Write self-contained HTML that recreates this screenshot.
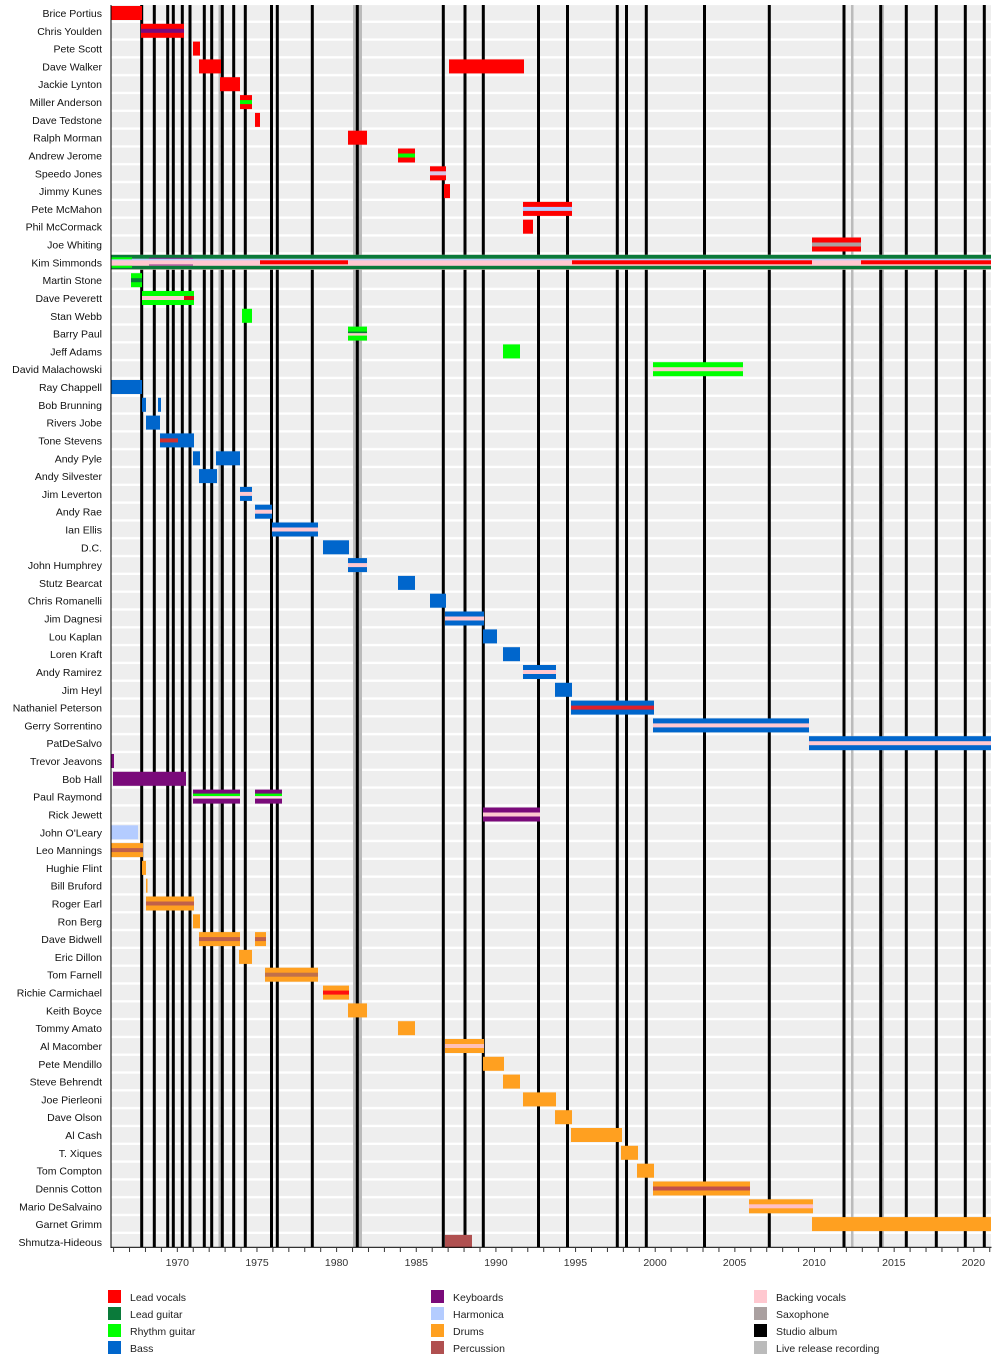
<!DOCTYPE html>
<html><head><meta charset="utf-8"><style>
html,body{margin:0;padding:0;background:#fff;}
svg{display:block;font-family:"Liberation Sans",Arial,sans-serif;}
.l{font-size:10.5px;fill:#111;text-anchor:end;}
.t{font-size:10.5px;fill:#333;text-anchor:middle;}
.g{font-size:10.5px;fill:#222;}
</style></head><body>
<svg width="1000" height="1367" viewBox="0 0 1000 1367" xmlns="http://www.w3.org/2000/svg">
<defs>
<pattern id="rows" patternUnits="userSpaceOnUse" x="0" y="5.1" width="1000" height="17.81">
<rect x="0" y="0" width="1000" height="15.5" fill="#eeeeee"/>
</pattern>
<pattern id="ticks" patternUnits="userSpaceOnUse" x="113.1" y="1247" width="15.93" height="6">
<rect x="0" y="0" width="1" height="5" fill="#333"/>
</pattern>
</defs>
<rect x="111" y="5" width="880" height="1242" fill="url(#rows)"/>
<!-- live release lines -->
<rect x="218.5" y="5" width="3" height="1242" fill="#bbb"/>
<rect x="353" y="5" width="9" height="1242" fill="#bbb"/>
<rect x="851" y="5" width="2.5" height="1242" fill="#bbb"/>
<rect x="881.5" y="5" width="2.5" height="1242" fill="#bbb"/>
<!-- studio album lines -->
<g fill="#000">
<rect x="140.2" y="5" width="3" height="1242"/><rect x="152.8" y="5" width="3" height="1242"/>
<rect x="166.2" y="5" width="3" height="1242"/><rect x="171.8" y="5" width="3" height="1242"/>
<rect x="180.8" y="5" width="3" height="1242"/><rect x="188.5" y="5" width="3" height="1242"/>
<rect x="202.8" y="5" width="3" height="1242"/><rect x="210.2" y="5" width="3" height="1242"/>
<rect x="220.8" y="5" width="3" height="1242"/><rect x="232.2" y="5" width="3" height="1242"/>
<rect x="243.8" y="5" width="3" height="1242"/><rect x="270" y="5" width="3" height="1242"/>
<rect x="275.8" y="5" width="3" height="1242"/><rect x="310.8" y="5" width="3" height="1242"/>
<rect x="355.8" y="5" width="3" height="1242"/><rect x="441.8" y="5" width="3" height="1242"/>
<rect x="463.5" y="5" width="3" height="1242"/><rect x="481.8" y="5" width="3" height="1242"/>
<rect x="537" y="5" width="3" height="1242"/><rect x="566" y="5" width="3" height="1242"/>
<rect x="615.8" y="5" width="3" height="1242"/><rect x="625" y="5" width="3" height="1242"/>
<rect x="644.8" y="5" width="3" height="1242"/><rect x="703" y="5" width="3" height="1242"/>
<rect x="767.8" y="5" width="3" height="1242"/><rect x="842.5" y="5" width="3" height="1242"/>
<rect x="879.2" y="5" width="3" height="1242"/><rect x="904.8" y="5" width="3" height="1242"/>
<rect x="934.8" y="5" width="3" height="1242"/><rect x="963.8" y="5" width="3" height="1242"/>
<rect x="982.8" y="5" width="3" height="1242"/>
</g>

<g transform="translate(0,13.0)"><text class="l" x="102" y="4">Brice Portius</text><rect x="111" y="-7" width="31" height="14" fill="#ff0000"/></g>
<g transform="translate(0,30.8)"><text class="l" x="102" y="4">Chris Youlden</text><rect x="141" y="-7" width="43" height="14" fill="#ff0000"/><rect x="141" y="-2" width="43" height="4" fill="#7a0a7a"/></g>
<g transform="translate(0,48.6)"><text class="l" x="102" y="4">Pete Scott</text><rect x="193" y="-7" width="7" height="14" fill="#ff0000"/></g>
<g transform="translate(0,66.4)"><text class="l" x="102" y="4">Dave Walker</text><rect x="199" y="-7" width="22" height="14" fill="#ff0000"/><rect x="449" y="-7" width="75" height="14" fill="#ff0000"/></g>
<g transform="translate(0,84.2)"><text class="l" x="102" y="4">Jackie Lynton</text><rect x="220" y="-7" width="20" height="14" fill="#ff0000"/></g>
<g transform="translate(0,102.1)"><text class="l" x="102" y="4">Miller Anderson</text><rect x="240" y="-7" width="12" height="14" fill="#ff0000"/><rect x="240" y="-2" width="12" height="4" fill="#00ff00"/></g>
<g transform="translate(0,119.9)"><text class="l" x="102" y="4">Dave Tedstone</text><rect x="255" y="-7" width="5" height="14" fill="#ff0000"/></g>
<g transform="translate(0,137.7)"><text class="l" x="102" y="4">Ralph Morman</text><rect x="348" y="-7" width="19" height="14" fill="#ff0000"/></g>
<g transform="translate(0,155.5)"><text class="l" x="102" y="4">Andrew Jerome</text><rect x="398" y="-7" width="17" height="14" fill="#ff0000"/><rect x="398" y="-2" width="17" height="4" fill="#00ff00"/></g>
<g transform="translate(0,173.3)"><text class="l" x="102" y="4">Speedo Jones</text><rect x="430" y="-7" width="16" height="14" fill="#ff0000"/><rect x="430" y="-2" width="16" height="4" fill="#d8c4e4"/></g>
<g transform="translate(0,191.1)"><text class="l" x="102" y="4">Jimmy Kunes</text><rect x="444" y="-7" width="6" height="14" fill="#ff0000"/></g>
<g transform="translate(0,208.9)"><text class="l" x="102" y="4">Pete McMahon</text><rect x="523" y="-7" width="49" height="14" fill="#ff0000"/><rect x="523" y="-2" width="49" height="4" fill="#b4ccff"/></g>
<g transform="translate(0,226.7)"><text class="l" x="102" y="4">Phil McCormack</text><rect x="523" y="-7" width="10" height="14" fill="#ff0000"/></g>
<g transform="translate(0,244.5)"><text class="l" x="102" y="4">Joe Whiting</text><rect x="812" y="-7" width="49" height="14" fill="#ff0000"/><rect x="812" y="-2" width="49" height="4" fill="#aaa0a0"/></g>
<g transform="translate(0,262.3)"><text class="l" x="102" y="4">Kim Simmonds</text>
<rect x="111" y="-7.5" width="880" height="15" fill="#ffc8d0"/>
<rect x="111" y="-7.5" width="880" height="4" fill="#0a7a3a"/>
<rect x="111" y="-3.5" width="880" height="1.5" fill="#b4ccff"/>
<rect x="111" y="3.5" width="880" height="3.5" fill="#0a7a3a"/>
<rect x="111" y="-5" width="21" height="2" fill="#00ff00"/><rect x="111" y="3.5" width="21" height="2" fill="#00ff00"/>
<rect x="149" y="-4.5" width="44" height="0.8" fill="#7a0a7a"/><rect x="149" y="2.3" width="44" height="0.8" fill="#7a0a7a"/>
<rect x="260" y="-2" width="88" height="4" fill="#ff0000"/>
<rect x="572" y="-2" width="240" height="4" fill="#ff0000"/>
<rect x="861" y="-2" width="130" height="4" fill="#ff0000"/></g>
<g transform="translate(0,280.2)"><text class="l" x="102" y="4">Martin Stone</text><rect x="131" y="-7" width="11" height="14" fill="#00ff00"/><rect x="131" y="-2" width="11" height="4" fill="#0a7a3a"/></g>
<g transform="translate(0,298.0)"><text class="l" x="102" y="4">Dave Peverett</text><rect x="142" y="-7" width="52" height="14" fill="#00ff00"/><rect x="142" y="-2" width="42" height="4" fill="#ffc8d0"/><rect x="184" y="-2" width="10" height="4" fill="#d01010"/></g>
<g transform="translate(0,315.8)"><text class="l" x="102" y="4">Stan Webb</text><rect x="242" y="-7" width="10" height="14" fill="#00ff00"/></g>
<g transform="translate(0,333.6)"><text class="l" x="102" y="4">Barry Paul</text><rect x="348" y="-7" width="19" height="14" fill="#00ff00"/><rect x="348" y="-2" width="19" height="1.6" fill="#0a7a3a"/><rect x="348" y="-0.4" width="19" height="2.4" fill="#ffc8d0"/></g>
<g transform="translate(0,351.4)"><text class="l" x="102" y="4">Jeff Adams</text><rect x="503" y="-7" width="17" height="14" fill="#00ff00"/></g>
<g transform="translate(0,369.2)"><text class="l" x="102" y="4">David Malachowski</text><rect x="653" y="-7" width="90" height="14" fill="#00ff00"/><rect x="653" y="-2" width="90" height="4" fill="#ffc8d0"/></g>
<g transform="translate(0,387.0)"><text class="l" x="102" y="4">Ray Chappell</text><rect x="111" y="-7" width="31" height="14" fill="#0066cc"/></g>
<g transform="translate(0,404.8)"><text class="l" x="102" y="4">Bob Brunning</text><rect x="142" y="-7" width="4" height="14" fill="#0066cc"/><rect x="158" y="-7" width="3" height="14" fill="#0066cc"/></g>
<g transform="translate(0,422.6)"><text class="l" x="102" y="4">Rivers Jobe</text><rect x="146" y="-7" width="14" height="14" fill="#0066cc"/></g>
<g transform="translate(0,440.4)"><text class="l" x="102" y="4">Tone Stevens</text><rect x="160" y="-7" width="34" height="14" fill="#0066cc"/><rect x="160" y="-2" width="18" height="4" fill="#d03030"/></g>
<g transform="translate(0,458.3)"><text class="l" x="102" y="4">Andy Pyle</text><rect x="193" y="-7" width="7" height="14" fill="#0066cc"/><rect x="216" y="-7" width="24" height="14" fill="#0066cc"/></g>
<g transform="translate(0,476.1)"><text class="l" x="102" y="4">Andy Silvester</text><rect x="199" y="-7" width="18" height="14" fill="#0066cc"/></g>
<g transform="translate(0,493.9)"><text class="l" x="102" y="4">Jim Leverton</text><rect x="240" y="-7" width="12" height="14" fill="#0066cc"/><rect x="240" y="-2" width="12" height="4" fill="#ffc8d0"/></g>
<g transform="translate(0,511.7)"><text class="l" x="102" y="4">Andy Rae</text><rect x="255" y="-7" width="17" height="14" fill="#0066cc"/><rect x="255" y="-2" width="17" height="4" fill="#ffc8d0"/></g>
<g transform="translate(0,529.5)"><text class="l" x="102" y="4">Ian Ellis</text><rect x="272" y="-7" width="46" height="14" fill="#0066cc"/><rect x="272" y="-2" width="46" height="4" fill="#ffc8d0"/></g>
<g transform="translate(0,547.3)"><text class="l" x="102" y="4">D.C.</text><rect x="323" y="-7" width="26" height="14" fill="#0066cc"/></g>
<g transform="translate(0,565.1)"><text class="l" x="102" y="4">John Humphrey</text><rect x="348" y="-7" width="19" height="14" fill="#0066cc"/><rect x="348" y="-2" width="19" height="4" fill="#ffc8d0"/></g>
<g transform="translate(0,582.9)"><text class="l" x="102" y="4">Stutz Bearcat</text><rect x="398" y="-7" width="17" height="14" fill="#0066cc"/></g>
<g transform="translate(0,600.7)"><text class="l" x="102" y="4">Chris Romanelli</text><rect x="430" y="-7" width="16" height="14" fill="#0066cc"/></g>
<g transform="translate(0,618.5)"><text class="l" x="102" y="4">Jim Dagnesi</text><rect x="445" y="-7" width="39" height="14" fill="#0066cc"/><rect x="445" y="-2" width="39" height="4" fill="#ffc8d0"/></g>
<g transform="translate(0,636.4)"><text class="l" x="102" y="4">Lou Kaplan</text><rect x="483" y="-7" width="14" height="14" fill="#0066cc"/></g>
<g transform="translate(0,654.2)"><text class="l" x="102" y="4">Loren Kraft</text><rect x="503" y="-7" width="17" height="14" fill="#0066cc"/></g>
<g transform="translate(0,672.0)"><text class="l" x="102" y="4">Andy Ramirez</text><rect x="523" y="-7" width="33" height="14" fill="#0066cc"/><rect x="523" y="-2" width="33" height="4" fill="#ffc8d0"/></g>
<g transform="translate(0,689.8)"><text class="l" x="102" y="4">Jim Heyl</text><rect x="555" y="-7" width="17" height="14" fill="#0066cc"/></g>
<g transform="translate(0,707.6)"><text class="l" x="102" y="4">Nathaniel Peterson</text><rect x="571" y="-7" width="83" height="14" fill="#0066cc"/><rect x="571" y="-2" width="83" height="4" fill="#e0202a"/></g>
<g transform="translate(0,725.4)"><text class="l" x="102" y="4">Gerry Sorrentino</text><rect x="653" y="-7" width="156" height="14" fill="#0066cc"/><rect x="653" y="-2" width="156" height="4" fill="#ffc8d0"/></g>
<g transform="translate(0,743.2)"><text class="l" x="102" y="4">PatDeSalvo</text><rect x="809" y="-7" width="182" height="14" fill="#0066cc"/><rect x="809" y="-2" width="182" height="4" fill="#ffc8d0"/></g>
<g transform="translate(0,761.0)"><text class="l" x="102" y="4">Trevor Jeavons</text><rect x="111" y="-7" width="3" height="14" fill="#7a0a7a"/></g>
<g transform="translate(0,778.8)"><text class="l" x="102" y="4">Bob Hall</text><rect x="113" y="-7" width="73" height="14" fill="#7a0a7a"/></g>
<g transform="translate(0,796.6)"><text class="l" x="102" y="4">Paul Raymond</text><rect x="193" y="-7" width="47" height="14" fill="#7a0a7a"/><rect x="193" y="-3" width="47" height="2.5" fill="#00ff00"/><rect x="193" y="-0.5" width="47" height="2.5" fill="#ffe0e8"/><rect x="255" y="-7" width="27" height="14" fill="#7a0a7a"/><rect x="255" y="-3" width="27" height="2.5" fill="#00ff00"/><rect x="255" y="-0.5" width="27" height="2.5" fill="#ffe0e8"/></g>
<g transform="translate(0,814.5)"><text class="l" x="102" y="4">Rick Jewett</text><rect x="483" y="-7" width="57" height="14" fill="#7a0a7a"/><rect x="483" y="-2" width="57" height="4" fill="#ffc8d0"/></g>
<g transform="translate(0,832.3)"><text class="l" x="102" y="4">John O'Leary</text><rect x="111" y="-7" width="27" height="14" fill="#b4ccff"/></g>
<g transform="translate(0,850.1)"><text class="l" x="102" y="4">Leo Mannings</text><rect x="111" y="-7" width="32" height="14" fill="#ffa020"/><rect x="111" y="-2" width="32" height="4" fill="#c0604a"/></g>
<g transform="translate(0,867.9)"><text class="l" x="102" y="4">Hughie Flint</text><rect x="142" y="-7" width="4" height="14" fill="#ffa020"/></g>
<g transform="translate(0,885.7)"><text class="l" x="102" y="4">Bill Bruford</text><rect x="146" y="-7" width="1.5" height="14" fill="#ffa020"/></g>
<g transform="translate(0,903.5)"><text class="l" x="102" y="4">Roger Earl</text><rect x="146" y="-7" width="48" height="14" fill="#ffa020"/><rect x="146" y="-2" width="48" height="4" fill="#c0604a"/></g>
<g transform="translate(0,921.3)"><text class="l" x="102" y="4">Ron Berg</text><rect x="193" y="-7" width="7" height="14" fill="#ffa020"/></g>
<g transform="translate(0,939.1)"><text class="l" x="102" y="4">Dave Bidwell</text><rect x="199" y="-7" width="41" height="14" fill="#ffa020"/><rect x="199" y="-2" width="41" height="4" fill="#c0604a"/><rect x="255" y="-7" width="11" height="14" fill="#ffa020"/><rect x="255" y="-2" width="11" height="4" fill="#c0604a"/></g>
<g transform="translate(0,956.9)"><text class="l" x="102" y="4">Eric Dillon</text><rect x="239" y="-7" width="13" height="14" fill="#ffa020"/></g>
<g transform="translate(0,974.7)"><text class="l" x="102" y="4">Tom Farnell</text><rect x="265" y="-7" width="53" height="14" fill="#ffa020"/><rect x="265" y="-2" width="53" height="4" fill="#c0704a"/></g>
<g transform="translate(0,992.6)"><text class="l" x="102" y="4">Richie Carmichael</text><rect x="323" y="-7" width="26" height="14" fill="#ffa020"/><rect x="323" y="-2" width="26" height="4" fill="#ff1010"/></g>
<g transform="translate(0,1010.4)"><text class="l" x="102" y="4">Keith Boyce</text><rect x="348" y="-7" width="19" height="14" fill="#ffa020"/></g>
<g transform="translate(0,1028.2)"><text class="l" x="102" y="4">Tommy Amato</text><rect x="398" y="-7" width="17" height="14" fill="#ffa020"/></g>
<g transform="translate(0,1046.0)"><text class="l" x="102" y="4">Al Macomber</text><rect x="445" y="-7" width="39" height="14" fill="#ffa020"/><rect x="445" y="-2" width="39" height="4" fill="#ffc0b8"/></g>
<g transform="translate(0,1063.8)"><text class="l" x="102" y="4">Pete Mendillo</text><rect x="483" y="-7" width="21" height="14" fill="#ffa020"/></g>
<g transform="translate(0,1081.6)"><text class="l" x="102" y="4">Steve Behrendt</text><rect x="503" y="-7" width="17" height="14" fill="#ffa020"/></g>
<g transform="translate(0,1099.4)"><text class="l" x="102" y="4">Joe Pierleoni</text><rect x="523" y="-7" width="33" height="14" fill="#ffa020"/></g>
<g transform="translate(0,1117.2)"><text class="l" x="102" y="4">Dave Olson</text><rect x="555" y="-7" width="17" height="14" fill="#ffa020"/></g>
<g transform="translate(0,1135.0)"><text class="l" x="102" y="4">Al Cash</text><rect x="571" y="-7" width="51" height="14" fill="#ffa020"/></g>
<g transform="translate(0,1152.8)"><text class="l" x="102" y="4">T. Xiques</text><rect x="621" y="-7" width="17" height="14" fill="#ffa020"/></g>
<g transform="translate(0,1170.7)"><text class="l" x="102" y="4">Tom Compton</text><rect x="637" y="-7" width="17" height="14" fill="#ffa020"/></g>
<g transform="translate(0,1188.5)"><text class="l" x="102" y="4">Dennis Cotton</text><rect x="653" y="-7" width="97" height="14" fill="#ffa020"/><rect x="653" y="-2" width="97" height="4" fill="#c0504a"/></g>
<g transform="translate(0,1206.3)"><text class="l" x="102" y="4">Mario DeSalvaino</text><rect x="749" y="-7" width="64" height="14" fill="#ffa020"/><rect x="749" y="-2" width="64" height="4" fill="#ffc0c8"/></g>
<g transform="translate(0,1224.1)"><text class="l" x="102" y="4">Garnet Grimm</text><rect x="812" y="-7" width="179" height="14" fill="#ffa020"/></g>
<g transform="translate(0,1241.9)"><text class="l" x="102" y="4">Shmutza-Hideous</text><rect x="445" y="-7" width="27" height="13" fill="#b05050"/></g>

<!-- axes -->
<rect x="110.5" y="5" width="1" height="1243" fill="#000"/>
<rect x="110.5" y="1246.8" width="881" height="1" fill="#000"/>
<rect x="111" y="1247" width="880" height="5" fill="url(#ticks)"/>
<g>
<text class="t" x="177.3" y="1266">1970</text><text class="t" x="257" y="1266">1975</text>
<text class="t" x="336.6" y="1266">1980</text><text class="t" x="416.3" y="1266">1985</text>
<text class="t" x="495.9" y="1266">1990</text><text class="t" x="575.4" y="1266">1995</text>
<text class="t" x="655" y="1266">2000</text><text class="t" x="734.6" y="1266">2005</text>
<text class="t" x="814.2" y="1266">2010</text><text class="t" x="893.8" y="1266">2015</text>
<text class="t" x="973.4" y="1266">2020</text>
</g>
<!-- legend -->
<rect x="108" y="1290" width="13" height="13" fill="#ff0000"/><text class="g" x="130" y="1301">Lead vocals</text>
<rect x="108" y="1307" width="13" height="13" fill="#0a7a3a"/><text class="g" x="130" y="1318">Lead guitar</text>
<rect x="108" y="1324" width="13" height="13" fill="#00ff00"/><text class="g" x="130" y="1335">Rhythm guitar</text>
<rect x="108" y="1341" width="13" height="13" fill="#0066cc"/><text class="g" x="130" y="1352">Bass</text>
<rect x="431" y="1290" width="13" height="13" fill="#7a0a7a"/><text class="g" x="453" y="1301">Keyboards</text>
<rect x="431" y="1307" width="13" height="13" fill="#b4ccff"/><text class="g" x="453" y="1318">Harmonica</text>
<rect x="431" y="1324" width="13" height="13" fill="#ffa020"/><text class="g" x="453" y="1335">Drums</text>
<rect x="431" y="1341" width="13" height="13" fill="#b05050"/><text class="g" x="453" y="1352">Percussion</text>
<rect x="754" y="1290" width="13" height="13" fill="#ffc8d0"/><text class="g" x="776" y="1301">Backing vocals</text>
<rect x="754" y="1307" width="13" height="13" fill="#aaa0a0"/><text class="g" x="776" y="1318">Saxophone</text>
<rect x="754" y="1324" width="13" height="13" fill="#000000"/><text class="g" x="776" y="1335">Studio album</text>
<rect x="754" y="1341" width="13" height="13" fill="#bbbbbb"/><text class="g" x="776" y="1352">Live release recording</text>
</svg>
</body></html>
